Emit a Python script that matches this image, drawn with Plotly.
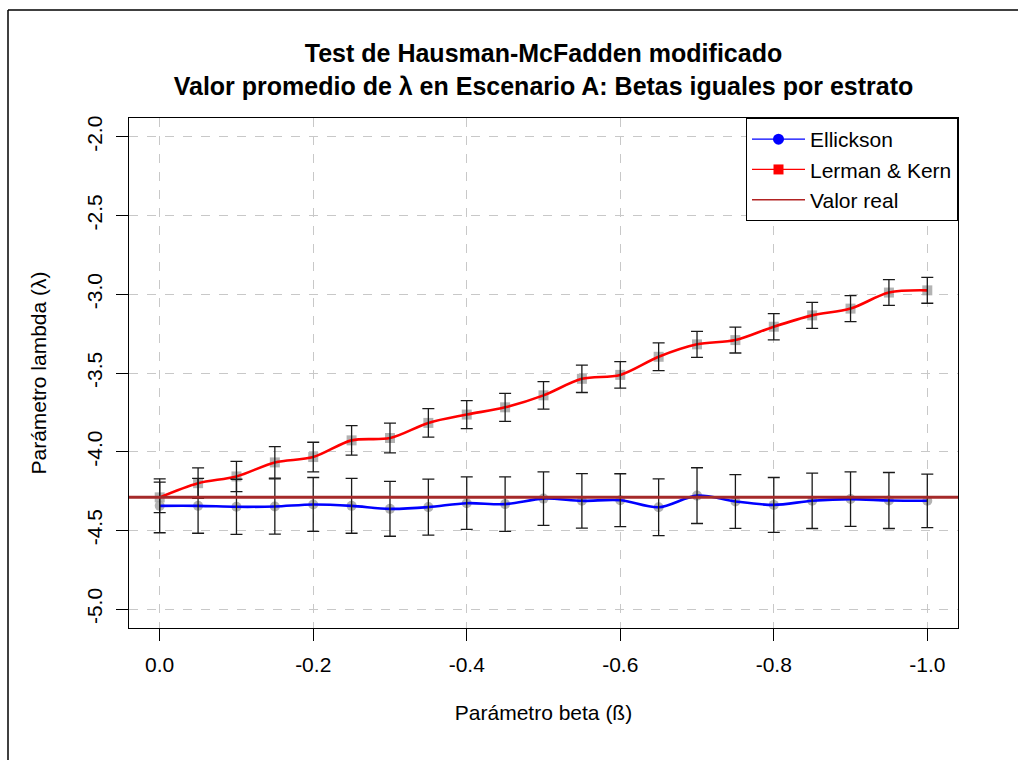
import plotly.graph_objects as go

# Valores del parámetro beta (eje X)
beta = [0.0, -0.05, -0.10, -0.15, -0.20, -0.25, -0.30, -0.35, -0.40, -0.45, -0.50,
        -0.55, -0.60, -0.65, -0.70, -0.75, -0.80, -0.85, -0.90, -0.95, -1.0]

# Ellickson: media de lambda y semiamplitud del intervalo
ellickson_mean = [-4.344, -4.344, -4.350, -4.348, -4.335, -4.344, -4.363, -4.352, -4.327, -4.333, -4.298,
                  -4.312, -4.308, -4.353, -4.279, -4.316, -4.338, -4.312, -4.301, -4.310, -4.312]
ellickson_err = [0.171, 0.174, 0.175, 0.176, 0.171, 0.174, 0.174, 0.178, 0.167, 0.173, 0.170,
                 0.173, 0.168, 0.180, 0.177, 0.171, 0.174, 0.176, 0.173, 0.178, 0.170]

# Lerman & Kern: media de lambda y semiamplitud del intervalo
lk_mean = [-4.290, -4.200, -4.157, -4.068, -4.034, -3.928, -3.913, -3.817, -3.764, -3.718, -3.642,
           -3.537, -3.512, -3.397, -3.318, -3.291, -3.206, -3.134, -3.091, -2.989, -2.975]
lk_err = [0.097, 0.097, 0.096, 0.100, 0.094, 0.094, 0.094, 0.091, 0.089, 0.089, 0.087,
          0.087, 0.084, 0.088, 0.083, 0.082, 0.083, 0.083, 0.083, 0.082, 0.082]

valor_real = -4.29

x_ticks = [0.0, -0.2, -0.4, -0.6, -0.8, -1.0]
x_tick_text = ["0.0", "-0.2", "-0.4", "-0.6", "-0.8", "-1.0"]
y_ticks = [-2.0, -2.5, -3.0, -3.5, -4.0, -4.5, -5.0]
y_tick_text = ["-2.0", "-2.5", "-3.0", "-3.5", "-4.0", "-4.5", "-5.0"]

FONT = "Liberation Sans, Arial, Helvetica, sans-serif"
GRAY_MARK = "rgba(160,160,160,0.8)"
BAR_COLOR = "#1a1a1a"

fig = go.Figure()

# Puntos grises
for y, sym in [(lk_mean, "square"), (ellickson_mean, "circle")]:
    fig.add_trace(go.Scatter(
        x=beta, y=y, mode="markers", showlegend=False, hoverinfo="skip",
        marker=dict(symbol=sym, size=10, color=GRAY_MARK, line=dict(width=0)),
    ))

# Curvas suavizadas
fig.add_trace(go.Scatter(
    x=beta, y=lk_mean, mode="lines", showlegend=False,
    line=dict(color="#ff0000", width=2.6, shape="spline", smoothing=0.9),
))
fig.add_trace(go.Scatter(
    x=beta, y=ellickson_mean, mode="lines", showlegend=False,
    line=dict(color="#0000ff", width=2.6, shape="spline", smoothing=0.9),
))

# Barras de error encima de las curvas
for y, err in [(lk_mean, lk_err), (ellickson_mean, ellickson_err)]:
    fig.add_trace(go.Scatter(
        x=beta, y=y, mode="markers", showlegend=False, hoverinfo="skip",
        marker=dict(size=1, color="rgba(0,0,0,0)"),
        error_y=dict(type="data", array=err, visible=True, color=BAR_COLOR,
                     thickness=1.3, width=6),
    ))

# Entradas de la leyenda
fig.add_trace(go.Scatter(
    x=[None], y=[None], mode="lines+markers", name="Ellickson",
    line=dict(color="#0000ff", width=1.3),
    marker=dict(symbol="circle", size=11, color="#0000ff"),
))
fig.add_trace(go.Scatter(
    x=[None], y=[None], mode="lines+markers", name="Lerman & Kern",
    line=dict(color="#ff0000", width=1.3),
    marker=dict(symbol="square", size=10, color="#ff0000"),
))
fig.add_trace(go.Scatter(
    x=[None], y=[None], mode="lines", name="Valor real",
    line=dict(color="#b22222", width=1.3),
))

# Línea del valor real
fig.add_shape(type="line", xref="paper", yref="y", x0=0, x1=1,
              y0=valor_real, y1=valor_real,
              line=dict(color="#a52a2a", width=3))

# Marco exterior del dispositivo
L, R, T, B = 129, 958, 118, 628
W, H = R - L, B - T
def px(xp):
    return (xp - L) / W
def py(yp):
    return (B - yp) / H
fig.add_shape(type="line", xref="paper", yref="paper",
              x0=px(8), x1=px(1018), y0=py(10), y1=py(10),
              line=dict(color="black", width=1.5), layer="above")
fig.add_shape(type="line", xref="paper", yref="paper",
              x0=px(8), x1=px(8), y0=py(10), y1=py(760),
              line=dict(color="black", width=1.5), layer="above")

axis_common = dict(
    showline=True, linecolor="black", linewidth=1, mirror=True,
    ticks="outside", ticklen=12, tickcolor="black", tickwidth=1,
    showgrid=True, gridcolor="#c8c8c8", griddash="dash", gridwidth=1,
    zeroline=False,
    tickfont=dict(family=FONT, size=21, color="black"),
)

fig.update_layout(
    width=1018, height=760,
    margin=dict(l=L, r=1018 - R, t=T, b=760 - B),
    paper_bgcolor="white", plot_bgcolor="white",
    font=dict(family=FONT, color="black"),
    title=dict(
        text="<b>Test de Hausman-McFadden modificado<br>"
             "Valor promedio de λ en Escenario A: Betas iguales por estrato</b>",
        x=0.5, xref="paper", xanchor="center",
        y=1 - 62 / 760, yref="container", yanchor="middle",
        font=dict(family=FONT, size=25, color="black"),
    ),
    xaxis=dict(
        axis_common,
        range=[0.04, -1.04], tickvals=x_ticks, ticktext=x_tick_text,
        ticklabelstandoff=6,
        title=dict(text="Parámetro beta (ß)", font=dict(family=FONT, size=21), standoff=30),
    ),
    yaxis=dict(
        axis_common,
        range=[-5.12, -1.88], tickvals=y_ticks, ticktext=y_tick_text,
        tickangle=-90, ticklabelstandoff=6,
        title=dict(text="Parámetro lambda (λ)", font=dict(family=FONT, size=21), standoff=30),
    ),
    legend=dict(
        x=1, y=1, xanchor="right", yanchor="top",
        bgcolor="white", bordercolor="black", borderwidth=1,
        font=dict(family=FONT, size=21, color="black"),
        tracegroupgap=0, itemwidth=53,
    ),
    showlegend=True,
)

fig.write_html("out.html")
